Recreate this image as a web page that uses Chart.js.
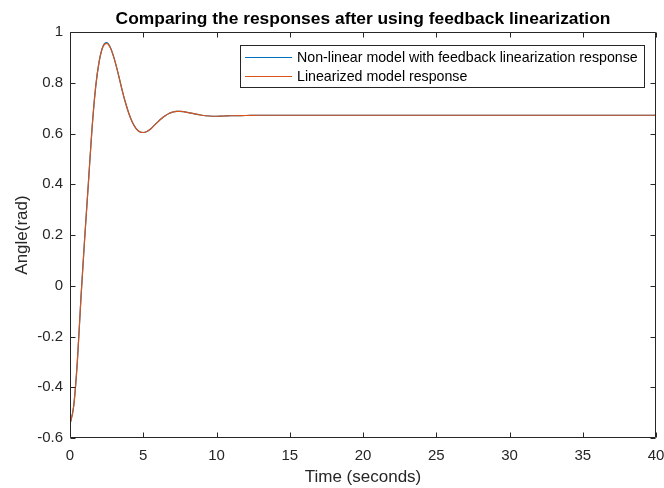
<!DOCTYPE html>
<html>
<head>
<meta charset="utf-8">
<script src="https://cdn.jsdelivr.net/npm/chart.js@4.4.1/dist/chart.umd.min.js"></script>
<style>
  html, body { margin: 0; padding: 0; background: #ffffff; }
  #wrap { width: 664px; height: 488px; position: relative; }
</style>
</head>
<body>
<div id="wrap"><canvas id="c" width="664" height="488"></canvas></div>
<script>
// Step response samples (time in seconds, angle in rad)
const timeSec = [0, 0.25, 0.5, 0.75, 1.0, 1.25, 1.5, 1.75, 2.0, 2.25, 2.5, 2.75, 3.0, 3.25, 3.5, 3.75,
  4.0, 4.25, 4.5, 4.75, 5.0, 5.25, 5.5, 5.75, 6.0, 6.25, 6.5, 6.75, 7.0, 7.25, 7.5, 7.75, 8.0,
  8.5, 9.0, 9.5, 10, 10.5, 11, 12, 13, 15, 20, 25, 30, 35, 40];

const nonlinearResp = [-0.546, -0.475, -0.300, -0.045, 0.185, 0.400, 0.617, 0.783, 0.887, 0.944, 0.958, 0.940,
  0.899, 0.845, 0.785, 0.729, 0.682, 0.645, 0.620, 0.607, 0.604, 0.608, 0.618, 0.632, 0.646, 0.659,
  0.670, 0.679, 0.684, 0.687, 0.687, 0.686, 0.683, 0.677, 0.672, 0.669, 0.668, 0.669, 0.670, 0.671,
  0.672, 0.672, 0.672, 0.672, 0.672, 0.672, 0.672];

const linearizedResp = [-0.546, -0.475, -0.300, -0.045, 0.185, 0.400, 0.617, 0.782, 0.886, 0.942, 0.955, 0.938,
  0.898, 0.845, 0.785, 0.729, 0.682, 0.645, 0.620, 0.607, 0.604, 0.608, 0.618, 0.632, 0.646, 0.659,
  0.670, 0.679, 0.684, 0.687, 0.687, 0.686, 0.683, 0.677, 0.672, 0.669, 0.668, 0.669, 0.670, 0.671,
  0.672, 0.672, 0.672, 0.672, 0.672, 0.672, 0.672];

const xTicks = [0, 5, 10, 15, 20, 25, 30, 35, 40];
const yTicks = [-0.6, -0.4, -0.2, 0, 0.2, 0.4, 0.6, 0.8, 1];

const chartTitle = 'Comparing the responses after using feedback linearization';
const xTitle = 'Time (seconds)';
const yTitle = 'Angle(rad)';
const seriesNames = ['Non-linear model with feedback linearization response', 'Linearized model response'];
const seriesColors = ['rgb(0,114,189)', 'rgb(217,83,25)'];

const FONT = '"Liberation Sans", Arial, Helvetica, sans-serif';
const AXIS_COLOR = '#262626';

const toPoints = (ys) => timeSec.map((t, i) => ({ x: t, y: ys[i] }));

// Box around the axes, inward tick marks on all four sides, title and legend
const framePlugin = {
  id: 'frame',
  afterDatasetsDraw(chart) {
    const { ctx, chartArea: a, scales: { x, y } } = chart;
    const L = Math.round(a.left) + 0.5, R = Math.round(a.right) - 0.5;
    const T = Math.round(a.top) + 0.5, B = Math.round(a.bottom) - 0.5;
    const tick = 5;
    ctx.save();
    ctx.strokeStyle = AXIS_COLOR;
    ctx.lineWidth = 1;
    ctx.beginPath();
    ctx.rect(L, T, R - L, B - T);
    xTicks.forEach(v => {
      const px = Math.round(x.getPixelForValue(v)) + 0.5;
      ctx.moveTo(px, B); ctx.lineTo(px, B - tick);
      ctx.moveTo(px, T); ctx.lineTo(px, T + tick);
    });
    yTicks.forEach(v => {
      const py = Math.round(y.getPixelForValue(v)) + 0.5;
      ctx.moveTo(L, py); ctx.lineTo(L + tick, py);
      ctx.moveTo(R, py); ctx.lineTo(R - tick, py);
    });
    ctx.stroke();

    // title
    ctx.fillStyle = '#000000';
    ctx.font = 'bold 17.4px ' + FONT;
    ctx.textAlign = 'center';
    ctx.textBaseline = 'alphabetic';
    ctx.fillText(chartTitle, (a.left + a.right) / 2, 24);

    // legend
    const bx = 240.5, by = 45.5, bw = 404, bh = 42;
    ctx.fillStyle = '#ffffff';
    ctx.fillRect(bx, by, bw, bh);
    ctx.strokeStyle = AXIS_COLOR;
    ctx.strokeRect(bx, by, bw, bh);
    ctx.font = '14.2px ' + FONT;
    ctx.textAlign = 'left';
    ctx.textBaseline = 'middle';
    const rows = [57, 76];
    seriesNames.forEach((name, i) => {
      ctx.fillStyle = seriesColors[i];
      ctx.fillRect(245, rows[i], 47, 1);
      ctx.fillStyle = '#000000';
      ctx.fillText(name, 297, rows[i] + 1);
    });
    ctx.restore();
  }
};

new Chart(document.getElementById('c'), {
  type: 'line',
  data: {
    // the first dataset in the list is painted on top
    datasets: [
      { label: seriesNames[1], data: toPoints(linearizedResp), borderColor: seriesColors[1],
        borderWidth: 1.2, pointRadius: 0, fill: false, cubicInterpolationMode: 'monotone' },
      { label: seriesNames[0], data: toPoints(nonlinearResp), borderColor: seriesColors[0],
        borderWidth: 1.2, pointRadius: 0, fill: false, cubicInterpolationMode: 'monotone' }
    ]
  },
  options: {
    responsive: false,
    animation: false,
    devicePixelRatio: 1,
    layout: { padding: { top: 32, right: 8, left: 0, bottom: 0 } },
    plugins: { legend: { display: false }, tooltip: { enabled: false }, title: { display: false } },
    scales: {
      x: {
        type: 'linear', min: 0, max: 40,
        afterBuildTicks: s => { s.ticks = xTicks.map(v => ({ value: v })); },
        afterFit: s => { s.height = 50; s.paddingLeft = 0; s.paddingRight = 0; },
        grid: { display: false, drawTicks: false },
        border: { display: false },
        ticks: { color: AXIS_COLOR, font: { family: FONT, size: 15 }, padding: 9, maxRotation: 0,
          callback: v => String(v) },
        title: { display: true, text: xTitle, color: AXIS_COLOR, font: { family: FONT, size: 17 },
          padding: { top: 0, bottom: 0 } }
      },
      y: {
        type: 'linear', min: -0.6, max: 1,
        afterBuildTicks: s => { s.ticks = yTicks.map(v => ({ value: v })); },
        afterFit: s => { s.width = 70; s.paddingTop = 0; s.paddingBottom = 0; },
        grid: { display: false, drawTicks: false },
        border: { display: false },
        ticks: { color: AXIS_COLOR, font: { family: FONT, size: 15 }, padding: 7,
          callback: v => String(Number(v.toFixed(1))) },
        title: { display: true, text: yTitle, color: AXIS_COLOR, font: { family: FONT, size: 17 },
          padding: { top: 12, bottom: 0 } }
      }
    }
  },
  plugins: [framePlugin]
});
</script>
</body>
</html>
